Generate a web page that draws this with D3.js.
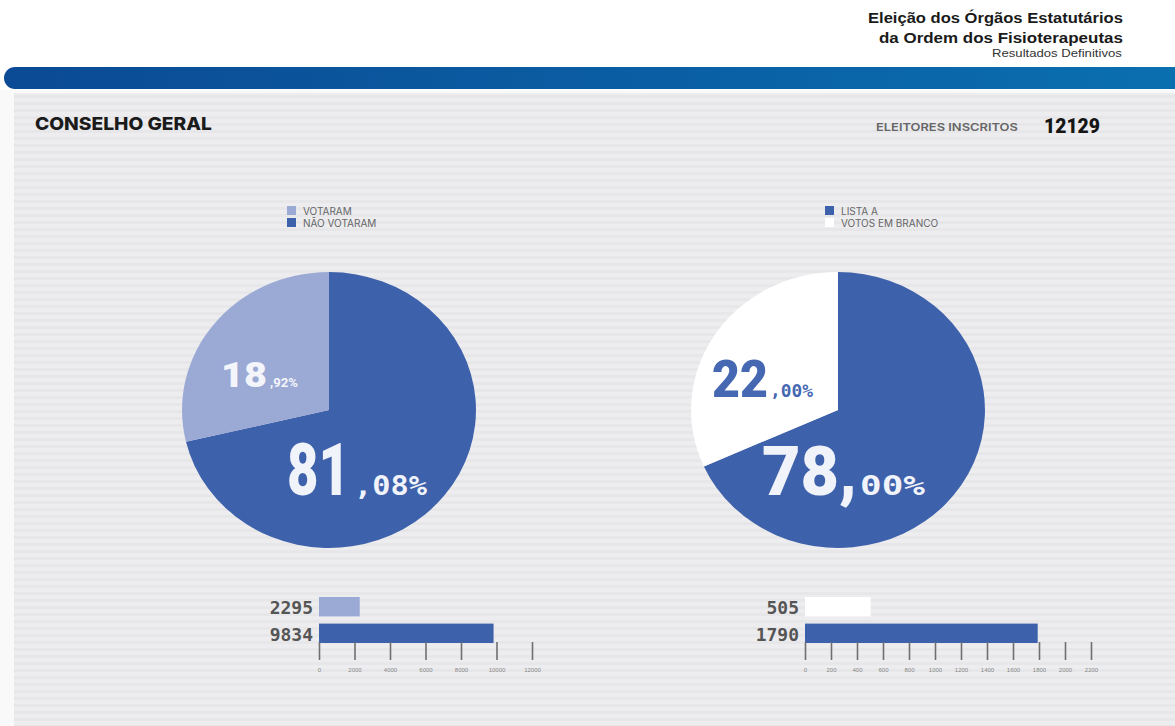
<!DOCTYPE html>
<html><head><meta charset="utf-8">
<script src="https://cdn.jsdelivr.net/npm/d3@7"></script>
<style>html,body{margin:0;padding:0;background:#fff;}svg{display:block;}</style>
</head><body>
<svg id="c" width="1175" height="726"></svg>
<script>
// ---- data ----
const participationCategories = ["VOTARAM", "NÃO VOTARAM"];
const participationCounts = [2295, 9834];
const participationDrawnShares = [28.7, 71.3]; // slice sizes as drawn in the graphic
const participationLabels = [["18", ",92%"], ["81", ",08%"]];

const resultCategories = ["LISTA A", "VOTOS EM BRANCO"];
const resultCounts = [1790, 505];
const resultDrawnShares = [68.3, 31.7];
const resultLabels = [["78,", "00%"], ["22", ",00%"]];

const leftTicks = [0, 2000, 4000, 6000, 8000, 10000, 12000];
const rightTicks = [0, 200, 400, 600, 800, 1000, 1200, 1400, 1600, 1800, 2000, 2200];
const registeredVoters = 12129;

const DARK = "#3e61ab", LIGHT = "#9ba9d5", WHITE = "#ffffff";

const svg = d3.select("#c");
const defs = svg.append("defs");
const grad = defs.append("linearGradient").attr("id", "hb").attr("x1", "0").attr("x2", "1");
grad.append("stop").attr("offset", "0").attr("stop-color", "#0b4a95");
grad.append("stop").attr("offset", "1").attr("stop-color", "#0a70b0");
const pat = defs.append("pattern").attr("id", "stripes").attr("patternUnits", "userSpaceOnUse")
  .attr("width", 10).attr("height", 7);
pat.append("rect").attr("width", 10).attr("height", 7).attr("fill", "#ededf0");
pat.append("rect").attr("y", 4).attr("width", 10).attr("height", 3).attr("fill", "#e7e7ea");

// panel
svg.append("rect").attr("x", 0).attr("y", 90).attr("width", 1175).attr("height", 636).attr("fill", "#f9f9fa");
svg.append("rect").attr("x", 14).attr("y", 93).attr("width", 1161).attr("height", 633).attr("fill", "url(#stripes)");

// header bar
svg.append("rect").attr("x", 4).attr("y", 67).attr("width", 1200).attr("height", 22).attr("rx", 11)
  .attr("fill", "url(#hb)");

// text fitted horizontally to a width by scaling
function fitText(x, y, str, family, weight, size, width, color, anchor) {
  const t = svg.append("text").attr("font-family", family).attr("font-weight", weight)
    .attr("font-size", size).attr("fill", color).text(str);
  const w = t.node().getComputedTextLength();
  const sx = width / w;
  const x0 = anchor === "end" ? x - width : x;
  t.attr("transform", `translate(${x0},${y}) scale(${sx},1)`);
  return t;
}

// title
const tf = "'Liberation Sans', Arial, sans-serif";
fitText(1123, 23, "Eleição dos Órgãos Estatutários", tf, "bold", 15.5, 255, "#1a1a1a", "end");
fitText(1123, 43, "da Ordem dos Fisioterapeutas", tf, "bold", 15.5, 244, "#1a1a1a", "end");
fitText(1122, 57, "Resultados Definitivos", tf, "normal", 10.5, 130, "#333", "end");

const sf = "Inter, 'Open Sans', sans-serif";
fitText(35, 130, "CONSELHO GERAL", sf, 800, 17.5, 177, "#1b1b1b");
fitText(876, 131, "ELEITORES INSCRITOS", sf, 600, 10.5, 142, "#666");
fitText(1044, 133, String(registeredVoters), "Roboto, sans-serif", 900, 20, 56, "#151515");

// legends
function legend(x, y, cats, colors) {
  const g = svg.append("g").attr("transform", `translate(${x},${y})`);
  cats.forEach((c, i) => {
    g.append("rect").attr("x", 0).attr("y", i * 12).attr("width", 9).attr("height", 9).attr("fill", colors[i]);
    g.append("text").attr("x", 16).attr("y", i * 12 + 8.5).attr("font-family", sf)
      .attr("font-size", 10).attr("fill", "#666").text(c);
  });
}
legend(287, 206, participationCategories, [LIGHT, DARK]);
legend(825, 206, resultCategories, [DARK, WHITE]);

// pies
function pie(cx, cy, shares, colors) {
  const g = svg.append("g").attr("transform", `translate(${cx},${cy}) scale(1.065,1)`);
  const p = d3.pie().sort(null).startAngle(0).endAngle(2 * Math.PI);
  const arc = d3.arc().innerRadius(0).outerRadius(138);
  g.selectAll("path").data(p(shares)).join("path").attr("d", arc).attr("fill", (d, i) => colors[i]);
}
// order: large (clockwise from 12 o'clock) then small
pie(329, 410, [participationDrawnShares[1], participationDrawnShares[0]], [DARK, LIGHT]);
pie(838, 410, [resultDrawnShares[0], resultDrawnShares[1]], [DARK, WHITE]);

const mono = "'DejaVu Sans Mono', monospace";
function label(x, y, big, small, bigSize, bigW, smallSize, smallW, color, smallFont, gap) {
  fitText(x, y, big, "Roboto, sans-serif", 900, bigSize, bigW, color);
  fitText(x + bigW + gap, y, small, smallFont, "bold", smallSize, smallW, color);
}
label(221, 387, participationLabels[0][0], participationLabels[0][1], 35, 46, 13, 28, "#f4f5fb", "Roboto, sans-serif", 3);
label(287, 495, participationLabels[1][0], participationLabels[1][1], 72, 63, 27, 73, "#f1f3fa", mono, 4);
label(712, 397, resultLabels[1][0], resultLabels[1][1], 52, 56, 18, 43, "#4668b2", mono, 2);
label(762, 495, resultLabels[0][0], resultLabels[0][1], 68, 95, 27, 65, "#f1f3fa", mono, 3);

// bars
function bars(x0, x1, maxV, ticks, counts, colors) {
  const x = d3.scaleLinear().domain([0, maxV]).range([x0, x1]);
  const y = d3.scaleBand().domain(counts.map((d, i) => i)).range([597, 643]).paddingInner(0.27);
  const g = svg.append("g");
  g.selectAll("rect").data(counts).join("rect")
    .attr("x", x(0)).attr("y", (d, i) => y(i)).attr("width", d => x(d) - x(0))
    .attr("height", y.bandwidth()).attr("fill", (d, i) => colors[i]);
  g.selectAll("text.v").data(counts).join("text").attr("class", "v")
    .attr("x", x(0) - 6).attr("y", (d, i) => y(i) + y.bandwidth() - 2).attr("text-anchor", "end")
    .attr("font-family", mono).attr("font-weight", "bold").attr("font-size", 18).attr("fill", "#555")
    .text(d => d);
  const ax = svg.append("g").attr("transform", "translate(0,642)")
    .call(d3.axisBottom(x).tickValues(ticks).tickSizeInner(18).tickSizeOuter(0).tickPadding(8).tickFormat(d3.format("d")));
  ax.select(".domain").remove();
  ax.selectAll(".tick line").attr("stroke", "#6f6f6f").attr("stroke-width", 1.6);
  ax.selectAll(".tick text").attr("font-family", "'Liberation Sans', sans-serif").attr("font-size", 6).attr("fill", "#888");
}
bars(319, 532, 12000, leftTicks, [participationCounts[0], participationCounts[1]], [LIGHT, DARK]);
bars(805, 1091, 2200, rightTicks, [resultCounts[1], resultCounts[0]], [WHITE, DARK]);
</script>
</body></html>
